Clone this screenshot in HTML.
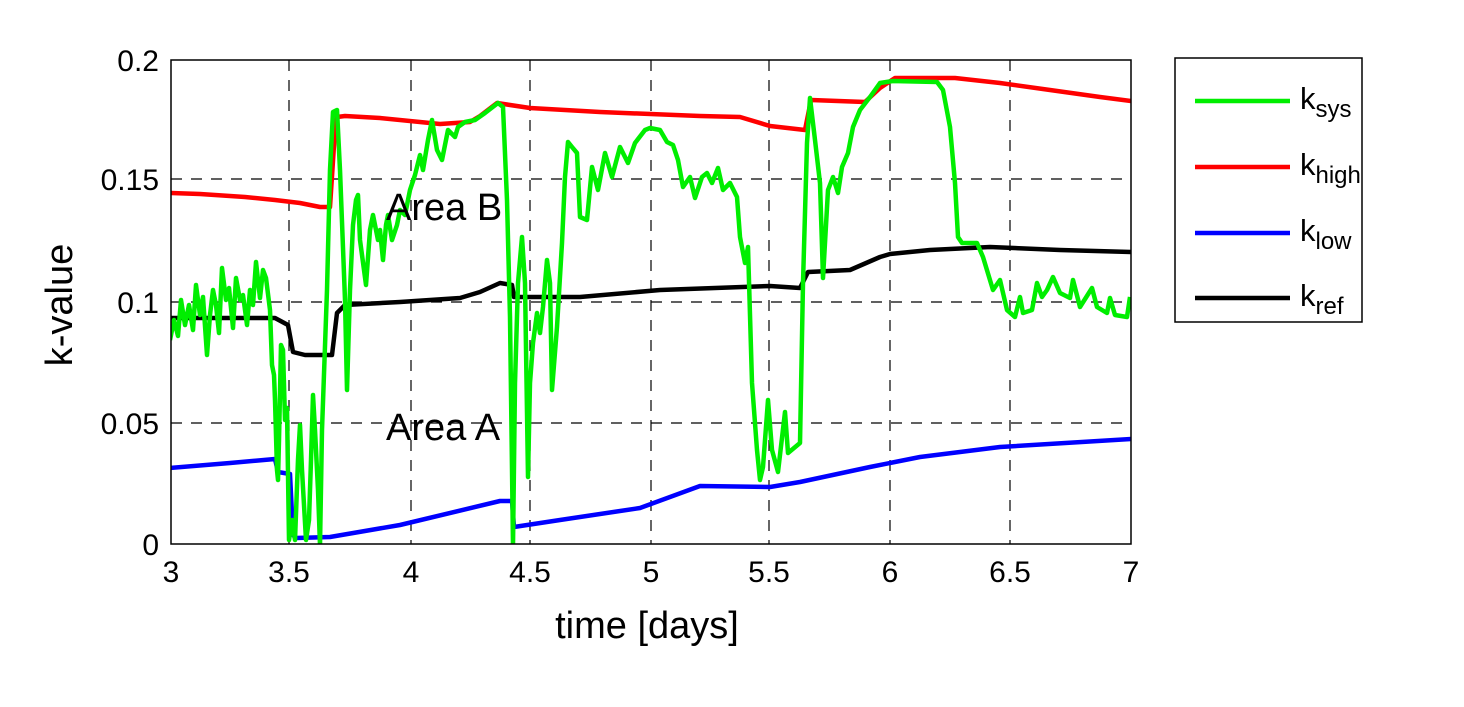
<!DOCTYPE html>
<html><head><meta charset="utf-8"><style>
html,body{margin:0;padding:0;background:#fff;}
svg text{font-family:"Liberation Sans",Arial,sans-serif;fill:#000;}
</style></head><body>
<svg width="1464" height="702" viewBox="0 0 1464 702" xmlns="http://www.w3.org/2000/svg">
<rect width="1464" height="702" fill="#fff"/>
<g stroke="#000" stroke-width="1.2" stroke-dasharray="11,9" fill="none">
<line x1="289" y1="60" x2="289" y2="544"/><line x1="411" y1="60" x2="411" y2="544"/>
<line x1="530" y1="60" x2="530" y2="544"/><line x1="651" y1="60" x2="651" y2="544"/>
<line x1="769" y1="60" x2="769" y2="544"/><line x1="890" y1="60" x2="890" y2="544"/>
<line x1="1010" y1="60" x2="1010" y2="544"/>
<line x1="171" y1="179" x2="1131" y2="179"/><line x1="171" y1="302" x2="1131" y2="302"/>
<line x1="171" y1="423" x2="1131" y2="423"/>
</g>
<defs><clipPath id="c"><rect x="171" y="60" width="960" height="484"/></clipPath></defs>
<g clip-path="url(#c)" fill="none" stroke-width="4.5" stroke-linejoin="round">
<polyline stroke="#ff0000" points="170,193 200,194 245,197 275,200 300,203 320,207 330,207 335,130 337,117 345,116 380,118 440,124 470,122 480,116 497,103 530,108 600,112 700,116 740,117 770,126 805,130 811,100 865,102 880,88 895,78 955,78 1000,83 1050,90 1100,97 1131,101"/>
<polyline stroke="#000" points="170,318 275,318 288,325 293,352 305,355 332,355 337,313 345,305 400,302 460,298 480,292 500,283 512,285 514,297 580,297 660,290 770,286 800,288 808,272 850,270 880,257 890,254 930,250 990,247 1060,250 1131,252"/>
<polyline stroke="#0000ff" points="170,468 230,463 275,459 278,472 290,474 293,535 296,538 330,537 400,525 500,501 512,501 514,527 560,520 640,508 700,486 770,487 800,482 870,467 920,457 1000,447 1131,439"/>
<polyline stroke="#00ee00" points="170,340 174,320 178,336 181,300 185,325 189,305 193,330 196,285 200,315 203,297 207,355 210,315 213,290 216,305 219,333 222,268 226,300 229,288 233,328 236,278 240,300 243,295 247,325 250,290 253,305 256,262 260,298 263,270 266,278 270,310 272,365 274,375 275,400 277,470 278,480 279,440 281,345 283,350 285,420 287,408 289,540 292,520 295,540 298,460 300,425 302,470 304,505 306,540 309,520 311,460 313,395 315,430 318,490 320,545 322,430 327,290 330,170 333,112 337,110 340,170 345,300 347,390 350,290 353,225 356,200 358,195 360,240 364,270 366,285 370,230 373,215 378,240 380,230 383,260 386,225 388,215 392,240 397,225 400,210 405,215 410,190 415,175 420,155 423,170 428,140 432,120 437,150 442,160 448,130 455,137 458,127 465,122 475,120 485,113 498,103 503,107 507,200 510,317 513,545 515,383 518,283 522,237 525,283 528,477 530,383 533,343 537,313 540,333 543,307 547,260 550,283 552,390 557,327 562,243 565,177 568,142 572,147 577,153 580,217 587,220 592,167 598,190 605,153 612,177 620,147 628,163 635,143 645,130 650,128 660,130 667,142 673,145 678,160 683,187 690,177 695,198 702,177 707,173 712,183 718,168 723,190 730,183 737,197 740,237 745,263 748,247 752,383 757,450 760,480 763,467 768,400 772,450 778,472 785,412 788,453 800,443 803,283 807,143 810,98 815,140 820,183 823,278 828,190 833,177 838,193 842,167 848,153 853,127 860,110 870,97 880,83 893,81 937,82 943,90 950,127 955,183 958,237 962,243 977,243 983,257 993,290 1000,280 1007,310 1015,317 1020,297 1023,313 1032,310 1037,283 1042,297 1047,290 1053,277 1060,293 1070,298 1073,280 1080,307 1092,288 1097,307 1107,313 1110,298 1115,315 1127,317 1130,297"/>
</g>
<rect x="171" y="60" width="960" height="484" fill="none" stroke="#000" stroke-width="1.5"/>
<g font-size="30" text-anchor="end">
<text x="159" y="71">0.2</text><text x="159" y="190">0.15</text><text x="159" y="313">0.1</text>
<text x="159" y="434">0.05</text><text x="159" y="555">0</text>
</g>
<g font-size="30" text-anchor="middle">
<text x="171" y="582">3</text><text x="289" y="582">3.5</text><text x="411" y="582">4</text>
<text x="530" y="582">4.5</text><text x="651" y="582">5</text><text x="769" y="582">5.5</text>
<text x="890" y="582">6</text><text x="1010" y="582">6.5</text><text x="1131" y="582">7</text>
</g>
<text x="647" y="638" font-size="38" text-anchor="middle">time [days]</text>
<text transform="translate(72,305) rotate(-90)" font-size="38" text-anchor="middle">k-value</text>
<text x="386" y="220" font-size="38">Area B</text>
<text x="386" y="440" font-size="38">Area A</text>
<rect x="1175" y="58" width="187" height="264" fill="#fff" stroke="#000" stroke-width="1.5"/>
<g stroke-width="4.5">
<line x1="1195" y1="101" x2="1290" y2="101" stroke="#00ee00"/>
<line x1="1195" y1="167" x2="1290" y2="167" stroke="#ff0000"/>
<line x1="1195" y1="233" x2="1290" y2="233" stroke="#0000ff"/>
<line x1="1195" y1="298" x2="1290" y2="298" stroke="#000"/>
</g>
<g font-size="31">
<text x="1300" y="109">k<tspan font-size="24" dy="8">sys</tspan></text>
<text x="1300" y="175">k<tspan font-size="24" dy="8">high</tspan></text>
<text x="1300" y="241">k<tspan font-size="24" dy="8">low</tspan></text>
<text x="1300" y="306">k<tspan font-size="24" dy="8">ref</tspan></text>
</g>
</svg>
</body></html>
